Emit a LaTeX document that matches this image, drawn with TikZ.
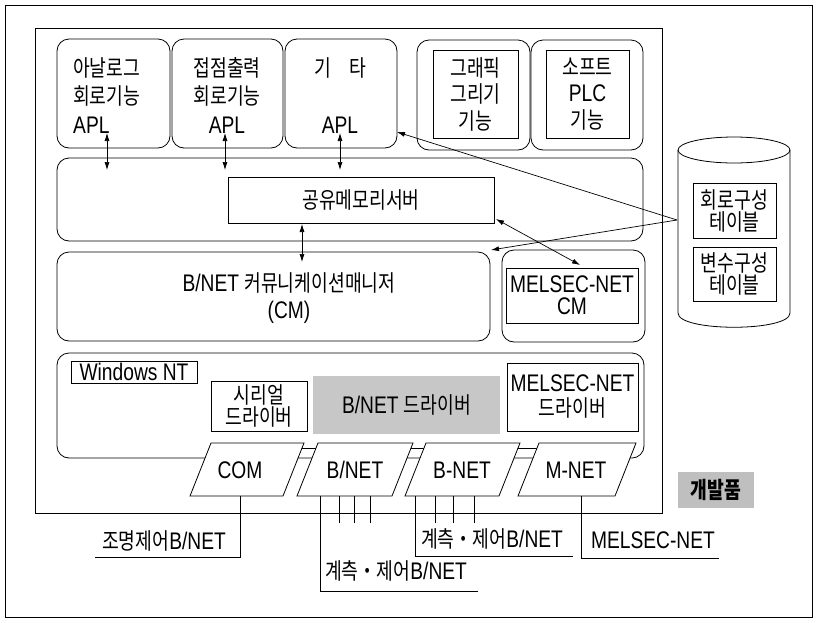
\documentclass[tikz,border=0pt]{standalone}
\usepackage{fontspec}
\setmainfont{Liberation Sans}[FakeStretch=0.8]
\newfontfamily\kr{Noto Sans CJK KR}[FakeStretch=0.8,Scale=0.95]
\newcommand{\kor}[1]{{\kr #1}}
\usetikzlibrary{arrows.meta,calc}
\tikzset{
  frame/.style={draw, line width=0.8pt, inner sep=0pt},
  rbox/.style={draw, rounded corners=12pt, line width=0.8pt, inner sep=0pt},
  sbox/.style={draw, line width=0.8pt, inner sep=0pt, align=center, font=\fontsize{24}{22}\selectfont},
  txt/.style={inner sep=0pt, align=center, font=\fontsize{24}{28.5}\selectfont},
  arr/.style={-{Latex[length=8pt,width=5pt]}, line width=0.7pt},
  darr/.style={{Latex[length=8pt,width=5pt]}-{Latex[length=8pt,width=5pt]}, line width=0.7pt},
  port/.style={draw, fill=white, line width=0.8pt},
  wire/.style={line width=0.8pt}
}
\begin{document}
\begin{tikzpicture}[x=1pt,y=-1pt]
\useasboundingbox (0,0) rectangle (817,622);
\fill[white] (0,0) rectangle (817,622);

% frames
\node[frame, minimum width=807pt, minimum height=612pt] (outer) at (408.5,311) {};
\node[frame, minimum width=627pt, minimum height=485pt] (dev) at (348.5,270.5) {};

% top row
\node[rbox, minimum width=113pt, minimum height=109pt] (b1) at (113.5,93.5) {};
\node[rbox, minimum width=111pt, minimum height=109pt] (b2) at (227.5,93.5) {};
\node[rbox, minimum width=112pt, minimum height=109pt] (b3) at (341,93.5) {};
\node[txt, anchor=west, align=left] (t1) at (73,95.5) {\kor{아날로그}\\\kor{회로기능}\\APL};
\node[txt] (t2) at (227,95.5) {\kor{접점출력}\\\kor{회로기능}\\APL};
\node[txt] (t3) at (340,95.5) {\kor{기　타}\\\mbox{}\\APL};

\node[rbox, minimum width=113pt, minimum height=110pt] (b4) at (473.5,95) {};
\node[rbox, minimum width=112pt, minimum height=110pt] (b5) at (587,95) {};
\node[frame, minimum width=85pt, minimum height=88pt, align=center, font=\fontsize{24}{26.5}\selectfont] (g4) at (475.5,94) {\kor{그래픽}\\\kor{그리기}\\\kor{기능}};
\node[frame, minimum width=83pt, minimum height=88pt, align=center, font=\fontsize{24}{26.5}\selectfont] (g5) at (587.5,94) {\kor{소프트}\\PLC\\\kor{기능}};

% shared memory row
\node[rbox, minimum width=586pt, minimum height=83pt] (shm) at (350,199.5) {};
\node[sbox, minimum width=266pt, minimum height=46pt] (srv) at (361,200) {\kor{공유메모리서버}};

% CM row
\node[rbox, minimum width=433pt, minimum height=89pt] (cm) at (273.5,296.5) {};
\node[txt, font=\fontsize{24}{27}\selectfont] (cmt) at (289,298) {B/NET \kor{커뮤니케이션매니저}\\(CM)};
\node[rbox, minimum width=143pt, minimum height=92pt] (mcm) at (573.5,296) {};
\node[sbox, minimum width=132pt, minimum height=55pt] (mcmi) at (572,295.5) {MELSEC-NET\\CM};

% cylinder
\draw[line width=0.8pt] (678,150) -- (678,313) .. controls (678,332) and (790,332) .. (790,313) -- (790,150);
\draw[line width=0.8pt] (734,150) ellipse [x radius=56, y radius=13];
\node[sbox, minimum width=83pt, minimum height=55pt] (tab1) at (734.5,210.5) {\kor{회로구성}\\\kor{테이블}};
\node[sbox, minimum width=83pt, minimum height=54pt] (tab2) at (734.5,274) {\kor{변수구성}\\\kor{테이블}};
\coordinate (cyl) at (677,220);

% driver row
\node[rbox, minimum width=587pt, minimum height=105pt] (win) at (350.5,405.5) {};
\node[sbox, minimum width=126pt, minimum height=22pt] (winnt) at (134,372) {Windows NT};
\node[sbox, minimum width=96pt, minimum height=50pt] (ser) at (259,406) {\kor{시리얼}\\\kor{드라이버}};
\node[fill=black!22, minimum width=187pt, minimum height=58pt, inner sep=0pt, font=\fontsize{24}{20}\selectfont] (bdrv) at (406.5,405) {B/NET \kor{드라이버}};
\node[sbox, minimum width=131pt, minimum height=68pt, font=\fontsize{24}{25}\selectfont] (mdrv) at (572.5,397) {MELSEC-NET\\\kor{드라이버}};

% link bar between ports
\draw[wire] (250,448) -- (580,448);

% ports
\draw[port] (190,496) -- (211,443) -- (304,443) -- (283,496) -- cycle;
\draw[port] (297,496) -- (318,443) -- (413,443) -- (392,496) -- cycle;
\draw[port] (405,496) -- (426,443) -- (520,443) -- (499,496) -- cycle;
\draw[port] (518,496) -- (539,443) -- (636,443) -- (615,496) -- cycle;
\node[txt] (com) at (240,470) {COM};
\node[txt] (bn1) at (355,470) {B/NET};
\node[txt] (bn2) at (462,470) {B-NET};
\node[txt] (mn) at (576,470) {M-NET};

% arrows
\coordinate (p1a) at (107,133); \coordinate (p1b) at (107,170);
\coordinate (p2a) at (225,133); \coordinate (p2b) at (225,170);
\coordinate (p3a) at (340,133); \coordinate (p3b) at (340,170);
\draw[darr] (p1a) -- (p1b);
\draw[darr] (p2a) -- (p2b);
\draw[darr] (p3a) -- (p3b);
\coordinate (p4a) at (302,224); \coordinate (p4b) at (302,262);
\draw[darr] (p4a) -- (p4b);
\coordinate (p5a) at (496,219); \coordinate (p5b) at (580,265);
\draw[darr] (p5a) -- (p5b);
\coordinate (p6) at (397,132);
\coordinate (p7) at (491,250);
\draw[arr] (cyl) -- (p6);
\draw[arr] (cyl) -- (p7);

% network lines
\coordinate (c0) at (240,496); \coordinate (c1) at (240,557); \coordinate (c2) at (95,557);
\draw[wire] (c0) -- (c1) -- (c2);
\node[txt] (l1) at (164,541) {\kor{조명제어}B/NET};

\coordinate (d0) at (320,496); \coordinate (d1) at (320,591); \coordinate (d2) at (478,591);
\draw[wire] (d0) -- (d1) -- (d2);
\foreach \x in {339,354,370} \draw[wire] (\x,496) -- (\x,523);
\node[txt] (l2) at (396,571) {\kor{계측・제어}B/NET};

\coordinate (e0) at (415,496); \coordinate (e1) at (415,556); \coordinate (e2) at (573,556);
\draw[wire] (e0) -- (e1) -- (e2);
\foreach \x in {435,453,474} \draw[wire] (\x,496) -- (\x,523);
\node[txt] (l3) at (492,539) {\kor{계측・제어}B/NET};

\coordinate (f0) at (581,496); \coordinate (f1) at (581,558); \coordinate (f2) at (719,558);
\draw[wire] (f0) -- (f1) -- (f2);
\node[txt] (l4) at (653,540) {MELSEC-NET};

% product label
\node[fill=black!25, minimum width=76pt, minimum height=36pt, inner sep=0pt, font=\fontsize{24}{24}\selectfont\bfseries] (devlabel) at (716,490) {\kor{개발품}};
\end{tikzpicture}
\end{document}
